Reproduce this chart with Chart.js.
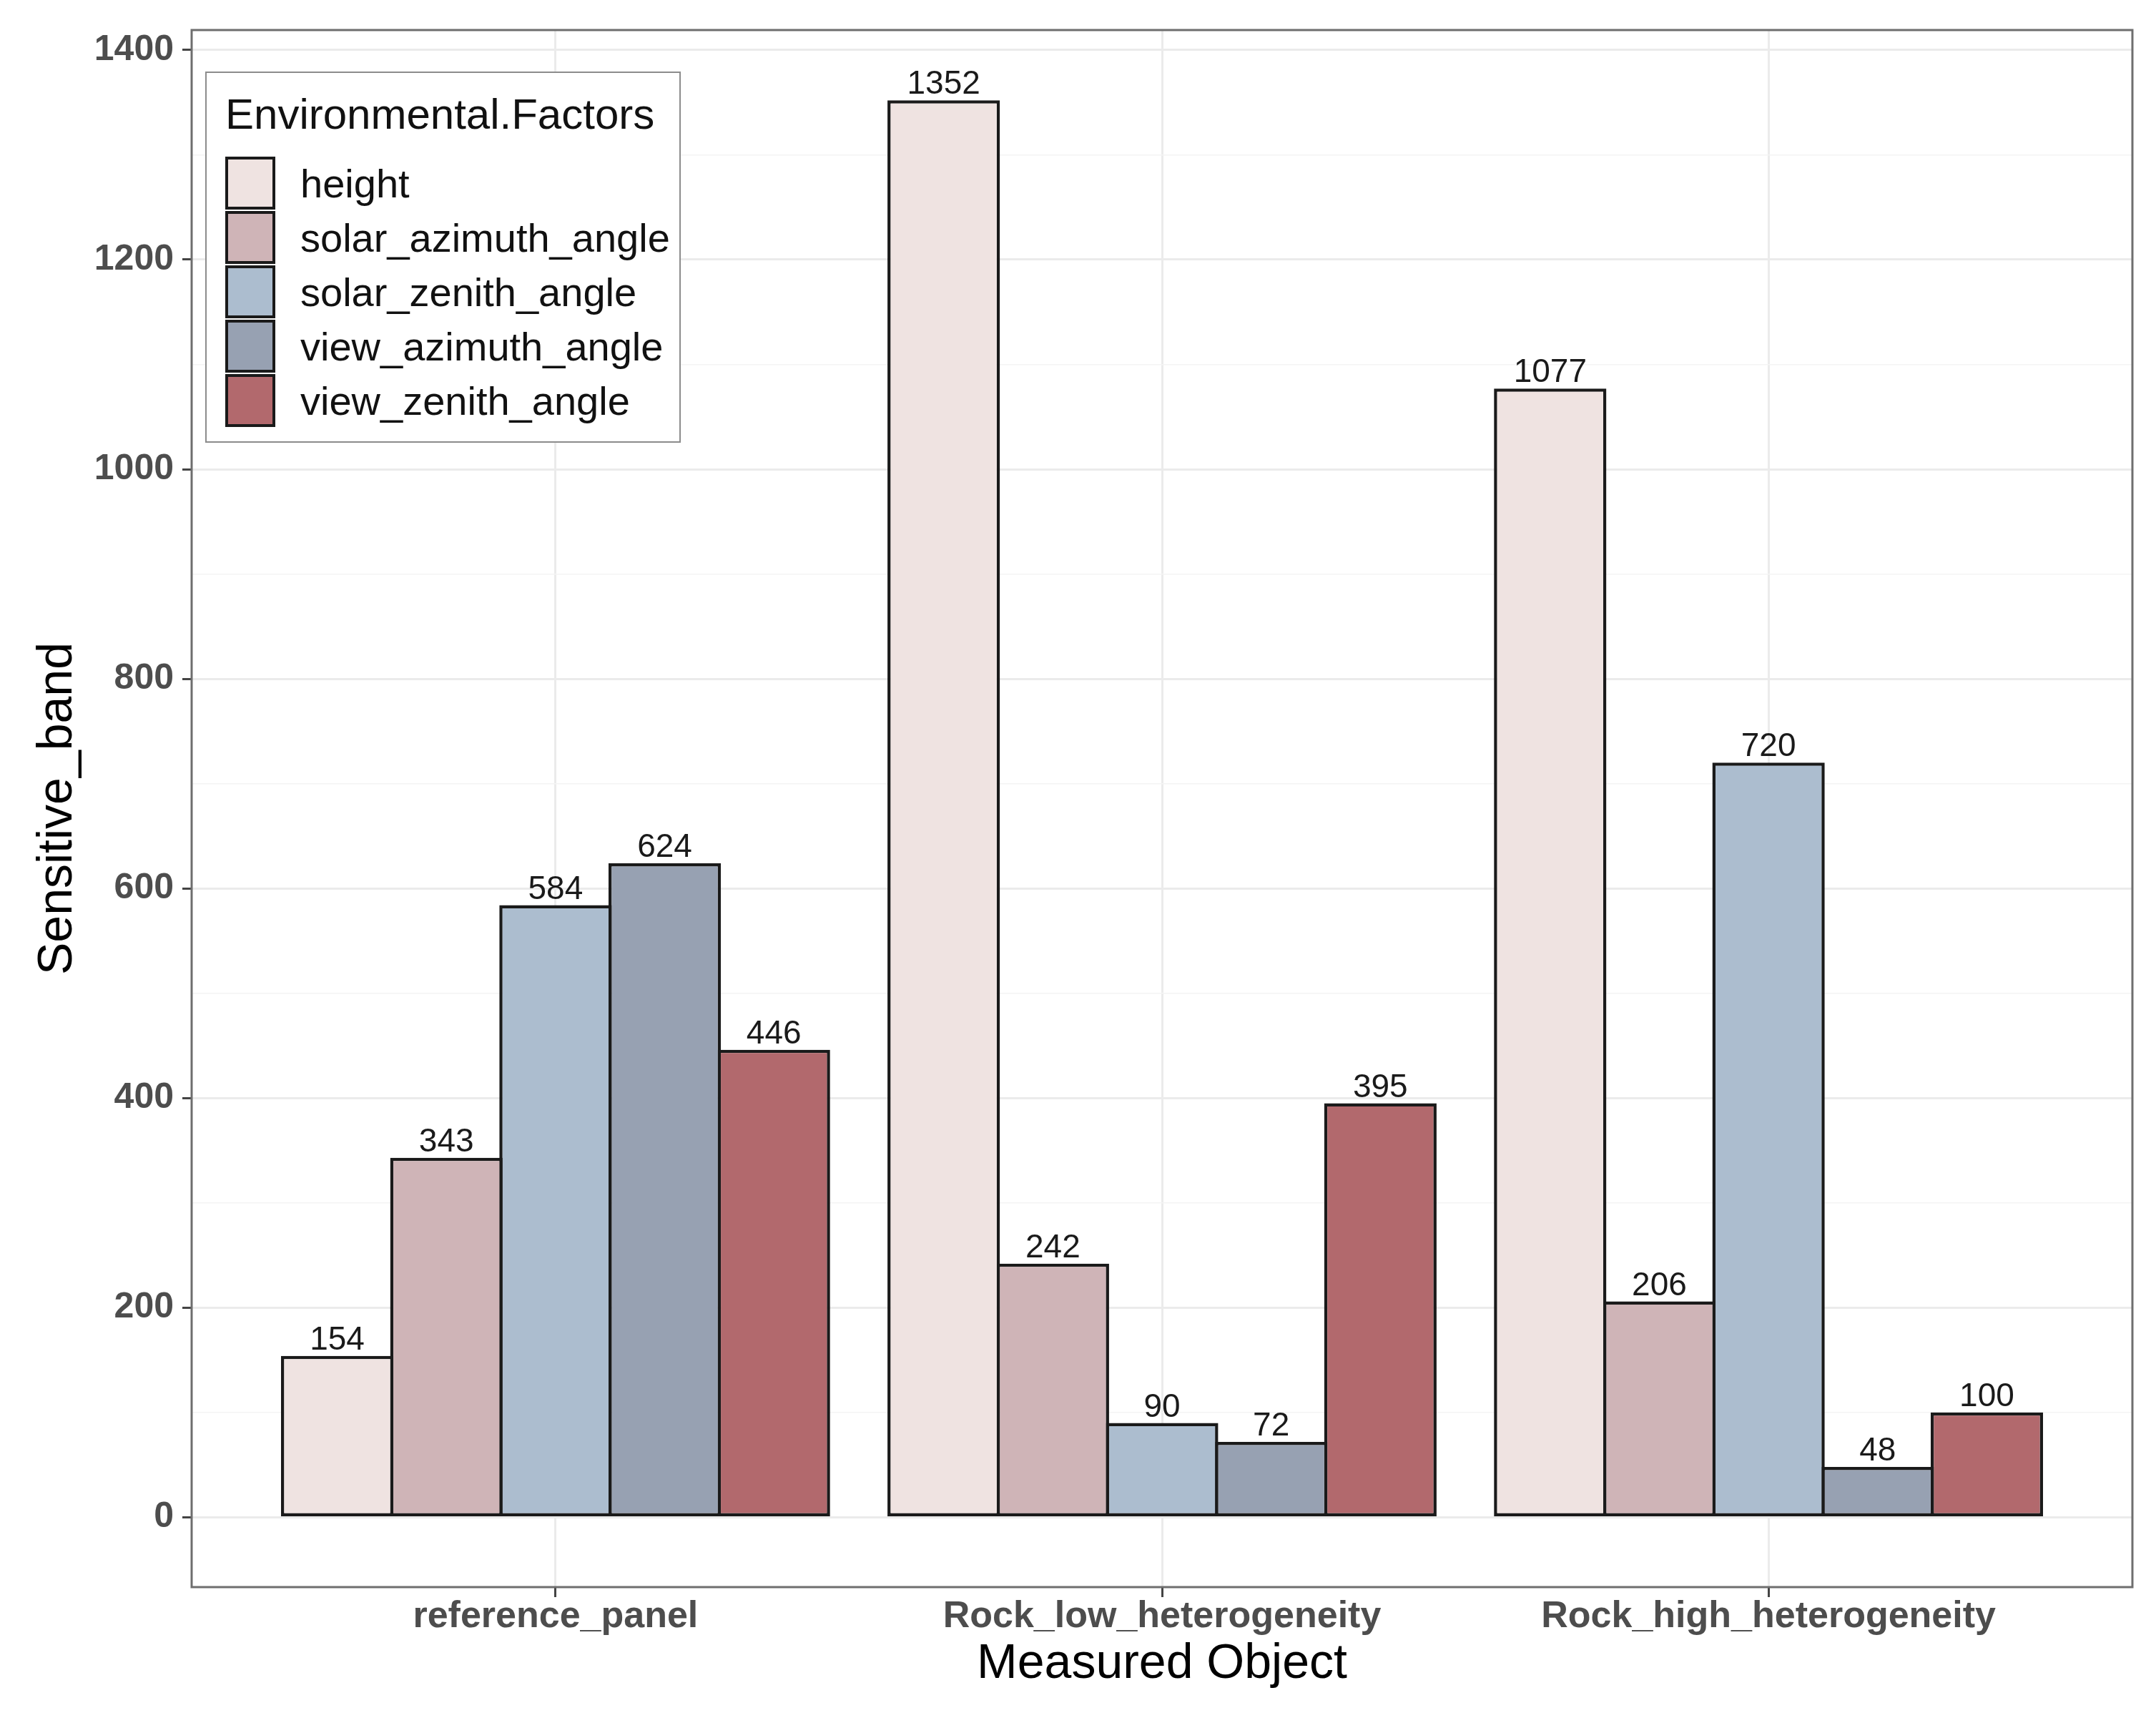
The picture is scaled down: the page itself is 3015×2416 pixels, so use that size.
<!DOCTYPE html>
<html>
<head>
<meta charset="utf-8">
<script src="https://cdn.jsdelivr.net/npm/chart.js"></script>
<style>
  body { margin: 0; background: #fff; }
  #wrap { position: relative; width: 3015px; height: 2416px; }
  #legend {
    position: absolute; left: 287px; top: 100px; width: 665px; height: 519px;
    box-sizing: border-box; border: 2px solid #8c8c8c; background: #fff;
    font-family: "Liberation Sans", Arial, sans-serif; color: #111;
  }
  #legend .title { position: absolute; left: 26px; top: 28px; font-size: 60px; line-height: 60px; white-space: nowrap; }
  #legend .row { position: absolute; left: 26px; height: 76px; display: flex; align-items: center; }
  #legend .sw { width: 70px; height: 74px; box-sizing: border-box; border: 4px solid #1a1a1a; }
  #legend .lab { margin-left: 35px; font-size: 56px; white-space: nowrap; }
</style>
</head>
<body>
<div id="wrap">
  <canvas id="chart" width="3015" height="2416"></canvas>
  <div id="legend"></div>
</div>
<script>
// data
const categories = ['reference_panel', 'Rock_low_heterogeneity', 'Rock_high_heterogeneity'];
const factors = ['height', 'solar_azimuth_angle', 'solar_zenith_angle', 'view_azimuth_angle', 'view_zenith_angle'];
const height = [154, 1352, 1077];
const solarAzimuth = [343, 242, 206];
const solarZenith = [584, 90, 720];
const viewAzimuth = [624, 72, 48];
const viewZenith = [446, 395, 100];
const yTicks = [0, 200, 400, 600, 800, 1000, 1200, 1400];

const colors = ['#EFE3E1', '#CFB4B7', '#ACBDCF', '#97A1B2', '#B2696D'];
const series = [height, solarAzimuth, solarZenith, viewAzimuth, viewZenith];

// minor gridlines halfway between labelled ticks
const yGrid = [];
yTicks.forEach((t, i) => {
  yGrid.push(t);
  if (i < yTicks.length - 1) yGrid.push((t + yTicks[i + 1]) / 2);
});
const isMajor = v => yTicks.includes(v);

// legend
const legend = document.getElementById('legend');
legend.innerHTML = '<div class="title">Environmental.Factors</div>' +
  factors.map((f, i) =>
    `<div class="row" style="top:${116 + i * 76}px"><div class="sw" style="background:${colors[i]}"></div><div class="lab">${f}</div></div>`
  ).join('');

const valueLabels = {
  id: 'valueLabels',
  afterDatasetsDraw(chart) {
    const ctx = chart.ctx;
    ctx.save();
    ctx.font = '46px "Liberation Sans", Arial, sans-serif';
    ctx.fillStyle = '#1a1a1a';
    ctx.textAlign = 'center';
    ctx.textBaseline = 'alphabetic';
    chart.data.datasets.forEach((ds, i) => {
      chart.getDatasetMeta(i).data.forEach((bar, j) => {
        ctx.fillText(String(ds.data[j].y), bar.x, bar.y - 9);
      });
    });
    // panel border
    const a = chart.chartArea;
    ctx.strokeStyle = '#6e6e6e';
    ctx.lineWidth = 3;
    ctx.strokeRect(a.left, a.top, a.right - a.left, a.bottom - a.top);
    ctx.restore();
  }
};

new Chart(document.getElementById('chart'), {
  type: 'bar',
  data: {
    datasets: series.map((vals, i) => ({
      label: factors[i],
      data: vals.map((v, j) => ({ x: j + 1, y: v })),
      backgroundColor: colors[i],
      borderColor: '#1a1a1a',
      borderWidth: 4.5,
      borderSkipped: false,
      categoryPercentage: 0.9,
      barPercentage: 1.03
    }))
  },
  options: {
    responsive: false,
    devicePixelRatio: 1,
    animation: false,
    layout: { padding: { top: 32, right: 33, left: 0, bottom: 0 } },
    plugins: {
      legend: { display: false },
      tooltip: { enabled: false }
    },
    scales: {
      x: {
        type: 'linear',
        min: 0.4,
        max: 3.6,
        offset: false,
        afterBuildTicks: s => { s.ticks = categories.map((c, i) => ({ value: i + 1 })); },
        afterFit: s => { s.height = 197; },
        border: { display: false },
        grid: { offset: false, color: '#EBEBEB', lineWidth: 3, tickColor: '#444', tickLength: 14, tickWidth: 3 },
        ticks: {
          autoSkip: false, maxRotation: 0, padding: 2,
          color: '#4D4D4D',
          font: { family: '"Liberation Sans", Arial, sans-serif', size: 52, weight: 'bold', lineHeight: 1 },
          callback: v => categories[v - 1]
        },
        title: {
          display: true, text: 'Measured Object', color: '#000',
          font: { family: '"Liberation Sans", Arial, sans-serif', size: 68, lineHeight: 1.2 },
          padding: { bottom: 48, top: 0 }
        }
      },
      y: {
        min: -66.6,
        max: 1419,
        afterBuildTicks: s => { s.ticks = yGrid.map(v => ({ value: v })); },
        afterFit: s => { s.width = 268; },
        border: { display: false },
        grid: {
          color: c => isMajor(c.tick.value) ? '#EBEBEB' : '#F4F4F4',
          lineWidth: c => isMajor(c.tick.value) ? 3 : 1.5,
          tickColor: c => isMajor(c.tick.value) ? '#444' : 'rgba(0,0,0,0)',
          tickLength: 13,
          tickWidth: 3
        },
        ticks: {
          padding: 12,
          color: '#4D4D4D',
          font: { family: '"Liberation Sans", Arial, sans-serif', size: 50, weight: 'bold' },
          callback: v => isMajor(v) ? String(v) : ''
        },
        title: {
          display: true, text: 'Sensitive_band', color: '#000',
          font: { family: '"Liberation Sans", Arial, sans-serif', size: 68, lineHeight: 1.2 },
          padding: { top: 40, bottom: 0 }
        }
      }
    }
  },
  plugins: [valueLabels]
});
</script>
</body>
</html>
